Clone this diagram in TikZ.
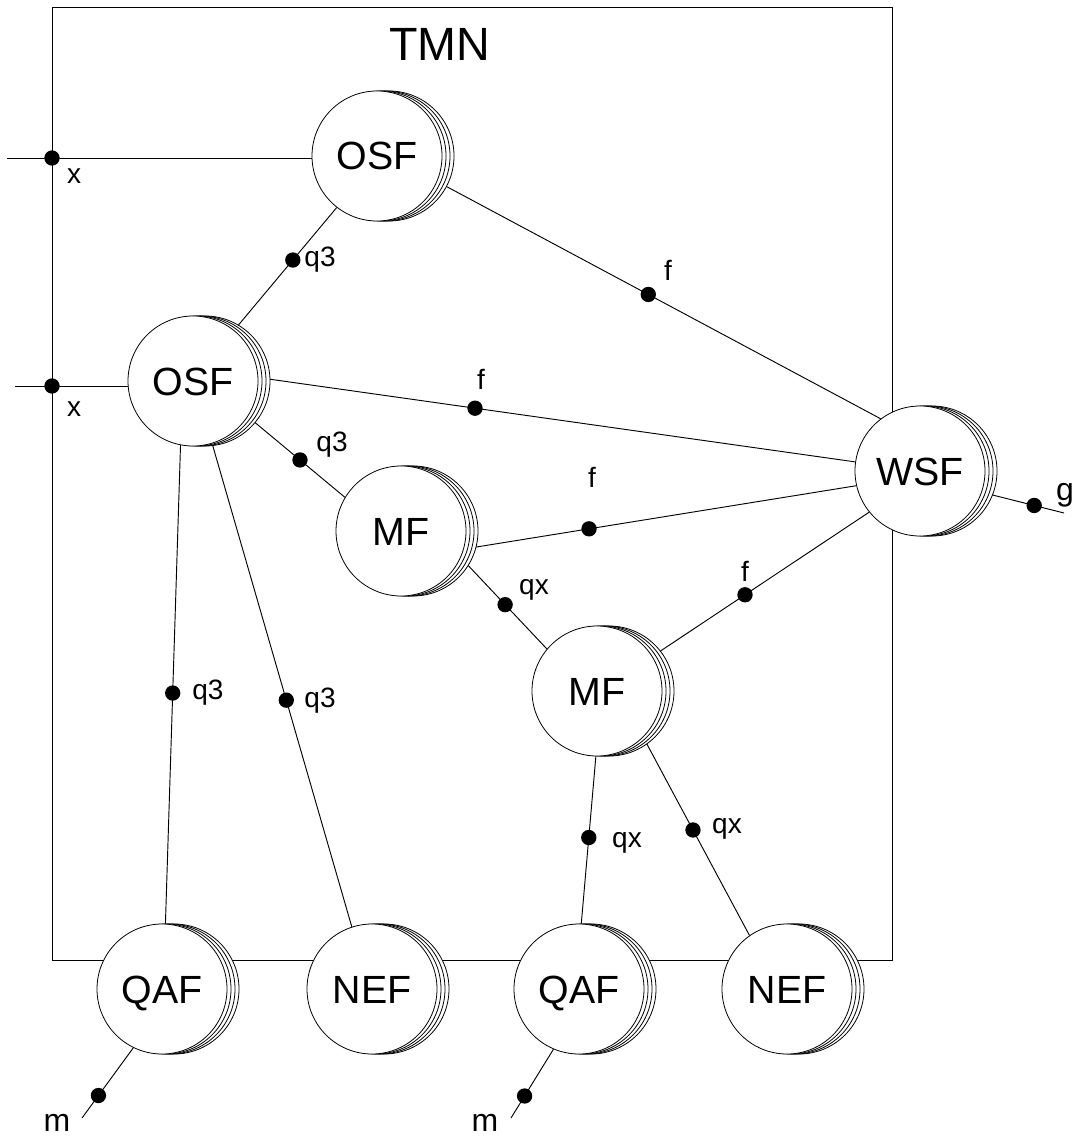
\documentclass[tikz,border=0pt]{standalone}
\usepackage{fontspec}
\setmainfont{Liberation Sans}
\usetikzlibrary{backgrounds,calc}
\tikzset{
  fn/.style={circle, draw, line width=0.6pt, fill=white, inner sep=0pt,
             minimum size=97.5pt, text height=21pt, text depth=0pt,
             font=\fontsize{29.5}{29.5}\selectfont},
  copyring/.style={draw, line width=0.6pt, fill=white},
  refpt/.style={circle, fill=black, inner sep=0pt, minimum size=11.5pt},
  wire/.style={line width=0.7pt},
  lbl/.style={inner sep=0pt, anchor=mid, font=\fontsize{21}{21}\selectfont},
  biglbl/.style={inner sep=0pt, anchor=base, font=\fontsize{24}{24}\selectfont},
}
% a function block: three offset copies behind a front circle
\newcommand\fnstack[3]{%
  \foreach \dx in {12,8,4}
    \draw[copyring] ($(#2)+(\dx,0)$) circle[radius=65];
  \node[fn] (#1) at (#2) {#3};}
\begin{document}
\begin{tikzpicture}[x=0.75pt,y=-0.75pt]
\useasboundingbox (0,0) rectangle (1072,1137);

% function blocks
\fnstack{OSFa}{377,156}{OSF}
\fnstack{OSFb}{193,381}{OSF}
\fnstack{MFa}{401,531}{MF}
\fnstack{MFb}{597,691}{MF}
\fnstack{WSF}{920,471}{WSF}
\fnstack{QAFa}{162,989}{QAF}
\fnstack{NEFa}{372,989}{NEF}
\fnstack{QAFb}{579,989}{QAF}
\fnstack{NEFb}{787,989}{NEF}

\node[inner sep=0pt, font=\fontsize{35}{35}\selectfont] (tmn) at (440,44) {TMN};

% free ends of the outer connectors
\coordinate (xa) at (7,158);
\coordinate (xb) at (15,386);
\coordinate (gend) at (1064,513);
\coordinate (ma) at (82,1118);
\coordinate (mb) at (511,1118);

\begin{scope}[on background layer]
  % TMN boundary
  \draw[wire] (52,7) rectangle (892,960);
  % reference points and connectors
  \draw[wire] (xa) -- node[refpt, pos=0.1216] (px1) {} (xa -| OSFa);
  \draw[wire] (xb) -- node[refpt, pos=0.208] (px2) {} (xb -| OSFb);
  \draw[wire] (OSFa.232) -- node[refpt, pos=0.428] (p1) {} (OSFb.51);
  \draw[wire] (OSFa.-23) -- node[refpt, pos=0.476] (p2) {} (WSF.127);
  \draw[wire] (OSFb.3) -- node[refpt, pos=0.363] (p3) {} (WSF.172);
  \draw[wire] (OSFb.-33) -- node[refpt, pos=0.537] (p4) {} (MFa.149);
  \draw[wire] (MFa.-16) -- node[refpt, pos=0.319] (p5) {} (WSF.193);
  \draw[wire] (MFa.-24) -- node[refpt, pos=0.515] (p6) {} (MFb.140);
  \draw[wire] (MFb.32) -- node[refpt, pos=0.427] (p7) {} (WSF.219);
  \draw[wire] (OSFb.-101) -- node[refpt, pos=0.518] (p8) {} (QAFa.87);
  \draw[wire] (OSFb.-73) -- node[refpt, pos=0.531] (p9) {} (NEFa.108);
  \draw[wire] (MFb.-91) -- node[refpt, pos=0.485] (p10) {} (QAFb.88);
  \draw[wire] (MFb.-45) -- node[refpt, pos=0.468] (p11) {} (NEFb.125);
  \draw[wire] (WSF.-19) -- node[refpt, pos=0.637] (pg) {} (gend);
  \draw[wire] (QAFa.-116) -- node[refpt, pos=0.68] (pm1) {} (ma);
  \draw[wire] (QAFb.-113) -- node[refpt, pos=0.68] (pm2) {} (mb);
\end{scope}

% reference point labels
\node[lbl] (lx1) at (74,180) {x};
\node[lbl] (lx2) at (74,413) {x};
\node[lbl] (l1) at (320,263) {q3};
\node[lbl] (l2) at (668,277) {f};
\node[lbl] (l3) at (481,386) {f};
\node[lbl] (l4) at (332,448) {q3};
\node[lbl] (l5) at (592,484) {f};
\node[lbl] (l6) at (534,591) {qx};
\node[lbl] (l7) at (745,578) {f};
\node[lbl] (l8) at (208,696) {q3};
\node[lbl] (l9) at (320,704) {q3};
\node[lbl] (l10) at (627,844) {qx};
\node[lbl] (l11) at (727,830) {qx};
\node[biglbl] (lg) at (1065,500) {g};
\node[biglbl] (lm1) at (57,1131) {m};
\node[biglbl] (lm2) at (485,1131) {m};
\end{tikzpicture}
\end{document}
